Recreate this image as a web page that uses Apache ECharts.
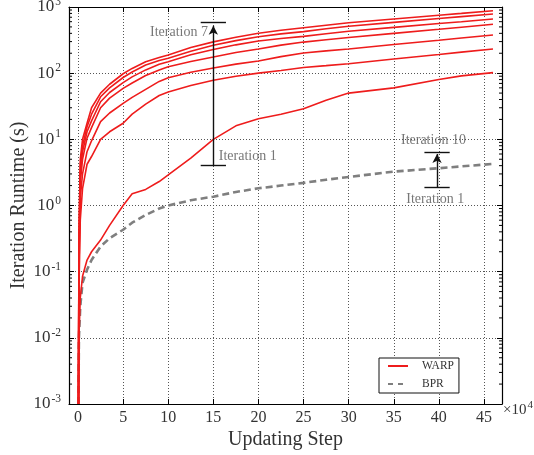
<!DOCTYPE html>
<html><head><meta charset="utf-8">
<script src="https://cdn.jsdelivr.net/npm/echarts@6/dist/echarts.min.js"></script>
<style>html,body{margin:0;padding:0;background:#fff}#c{width:534px;height:455px}</style>
</head><body><div id="c"></div>
<script>
// Updating step (x 10^4)
const steps = [0.05, 0.1, 0.25, 0.5, 1, 1.5, 2.5, 3.5, 5, 6, 7.5, 9, 10, 12.5, 15, 17.5, 20, 22.5, 25, 27.5, 30, 35, 40, 42.5, 46];
// WARP runtime per iteration (s), iteration 7 (top) ... iteration 1 (bottom)
const warpIter7 = [0.001, 0.3, 5, 10, 17.5, 30, 50, 68, 98, 118, 149, 172, 188, 245, 297, 350, 401, 445, 486, 530, 577, 658, 752, 800, 880];
const warpIter6 = [0.001, 0.25, 4, 8, 15.5, 24, 44, 60, 86, 104, 133, 155, 168, 215, 265, 310, 356, 392, 425, 468, 513, 586, 670, 715, 783];
const warpIter5 = [0.001, 0.2, 3, 6.5, 13, 19, 37, 51, 72, 88, 112, 136, 149, 190, 228, 268, 306, 335, 360, 395, 431, 492, 563, 600, 659];
const warpIter4 = [0.001, 0.15, 2.2, 5, 10.4, 15, 30, 42, 59, 71, 92, 112, 125, 150, 175, 205, 232, 265, 295, 320, 346, 399, 460, 495, 548];
const warpIter3 = [0.001, 0.1, 1.3, 3, 6.5, 9.5, 18.5, 25, 35, 43, 57, 75, 85, 103, 120, 137, 153, 178, 202, 217, 232, 271, 315, 340, 378];
const warpIter2 = [0.001, 0.05, 0.6, 1.8, 4.2, 5.5, 10, 13, 17.5, 24, 34, 46, 52, 65, 78, 90, 100, 110, 122, 130, 139, 164, 192, 208, 232];
const warpIter1 = [0.001, 0.01, 0.04, 0.085, 0.15, 0.2, 0.3, 0.5, 1.0, 1.5, 1.75, 2.3, 2.9, 5.2, 10, 16, 20.5, 24, 29, 39, 50, 60, 80, 91, 102];
// BPR runtime (s)
const bprRuntime = [0.001, 0.01, 0.03, 0.068, 0.107, 0.15, 0.24, 0.32, 0.43, 0.55, 0.72, 0.9, 1.0, 1.2, 1.36, 1.6, 1.82, 2.0, 2.2, 2.45, 2.7, 3.25, 3.66, 3.9, 4.25];

const xTicks = [0, 5, 10, 15, 20, 25, 30, 35, 40, 45];
const xRange = [-1, 47];
const yRange = [0.001, 1000];

// annotation brackets: [x, low, high(bar), arrowTip]
const bracketA = [15, 4.0, 588, 520];
const bracketB = [39.8, 1.89, 6.3, 6.0];
const bracketHalf = 1.4;
// annotation texts: [x, y, text, align]
const annotTexts = [
  [14.4, 419, 'Iteration 7', 'left'],
  [15.6, 5.6, 'Iteration 1', 'right'],
  [39.4, 9.5, 'Iteration 10', 'inside'],
  [39.6, 1.26, 'Iteration 1', 'inside']
];

const warpSeries = [warpIter7, warpIter6, warpIter5, warpIter4, warpIter3, warpIter2, warpIter1];

const FONT = 'Liberation Serif';
const RED = '#ee1c1c';
const GRAY = '#7f7f7f';

const minorVals = [];
for (let e = -3; e < 3; e++) for (let m = 2; m <= 9; m++) minorVals.push(m * Math.pow(10, e));

function pairs(ys) { return steps.map((x, i) => [x, ys[i]]); }

const series = [];
warpSeries.forEach((ys) => {
  series.push({
    name: 'WARP', type: 'line', data: pairs(ys), showSymbol: false, symbol: 'none',
    lineStyle: { color: RED, width: 1.6 }, itemStyle: { color: RED },
    silent: true, z: 3
  });
});
series.push({
  name: 'BPR', type: 'line', data: pairs(bprRuntime), showSymbol: false, symbol: 'none',
  lineStyle: { color: GRAY, width: 2.6, type: [7, 4] }, itemStyle: { color: GRAY },
  silent: true, z: 2
});

function bracketLines(b) {
  const [x, lo, hi, tip] = b;
  return [
    [{ coord: [x, lo], symbol: 'none' }, { coord: [x, tip], symbol: 'arrow', symbolSize: [7, 9] }],
    [{ coord: [x - bracketHalf, lo], symbol: 'none' }, { coord: [x + bracketHalf, lo], symbol: 'none' }],
    [{ coord: [x - bracketHalf, hi], symbol: 'none' }, { coord: [x + bracketHalf, hi], symbol: 'none' }]
  ];
}

series.push({
  name: 'annot', type: 'line', data: [], silent: true, z: 5,
  markLine: {
    silent: true, animation: false, symbol: ['none', 'none'],
    lineStyle: { color: '#111', width: 1.4, type: 'solid' },
    label: { show: false },
    data: bracketLines(bracketA).concat(bracketLines(bracketB))
  }
});

series.push({
  name: 'annotText', type: 'scatter', symbolSize: 0, silent: true, z: 6,
  data: annotTexts.map(t => ({
    value: [t[0], t[1]],
    label: { show: true, position: t[3], distance: 0, formatter: t[2],
      fontFamily: FONT, fontSize: 14, color: '#555' }
  }))
});

series.push({
  name: 'minor', type: 'custom', silent: true, z: 4,
  data: minorVals.map(v => [xRange[0], v]),
  renderItem: function (params, api) {
    const v = api.value(1);
    const p = api.coord([xRange[0], v]);
    const q = api.coord([xRange[1], v]);
    return { type: 'group', children: [
      { type: 'line', shape: { x1: p[0], y1: p[1], x2: p[0] + 3, y2: p[1] }, style: { stroke: '#000', lineWidth: 1 } },
      { type: 'line', shape: { x1: q[0] - 3, y1: q[1], x2: q[0], y2: q[1] }, style: { stroke: '#000', lineWidth: 1 } }
    ]};
  }
});

const splitStyle = { show: true, lineStyle: { color: '#555', width: 1, type: [1, 2] } };
const tickLabelStyle = { fontFamily: FONT, fontSize: 16, color: '#333' };

const option = {
  animation: false,
  backgroundColor: '#fff',
  grid: { left: 69, top: 7, right: 32, bottom: 51, containLabel: false, outerBoundsMode: 'none' },
  legend: {
    data: [
      { name: 'WARP', lineStyle: { color: RED, width: 2, type: 'solid' } },
      { name: 'BPR', lineStyle: { color: GRAY, width: 2, type: [5, 5] } }
    ],
    orient: 'vertical', left: 379, top: 358,
    padding: [2, 5, 3, 8], itemGap: 6, itemWidth: 20, itemHeight: 14,
    itemStyle: { opacity: 0 },
    backgroundColor: '#fff', borderColor: '#111', borderWidth: 1,
    textStyle: { fontFamily: FONT, fontSize: 11.5, color: '#333', padding: [0, 0, 0, 9] }
  },
  xAxis: [{
    type: 'value', min: xRange[0], max: xRange[1], position: 'bottom',
    name: 'Updating Step', nameLocation: 'middle', nameGap: 26, nameMoveOverlap: false,
    nameTextStyle: { fontFamily: FONT, fontSize: 20, color: '#333' },
    axisLine: { show: true, onZero: false, lineStyle: { color: '#000', width: 1.2 } },
    axisTick: { show: true, inside: true, length: 5, customValues: xTicks, lineStyle: { color: '#000' } },
    axisLabel: Object.assign({ customValues: xTicks, margin: 6 }, tickLabelStyle),
    splitLine: splitStyle
  }, {
    type: 'value', min: xRange[0], max: xRange[1], position: 'top',
    axisLine: { show: true, onZero: false, lineStyle: { color: '#000', width: 1.2 } },
    axisTick: { show: true, inside: true, length: 5, customValues: xTicks, lineStyle: { color: '#000' } },
    axisLabel: { show: false }, splitLine: { show: false }
  }],
  yAxis: [{
    type: 'log', logBase: 10, min: yRange[0], max: yRange[1], position: 'left',
    name: 'Iteration Runtime (s)', nameLocation: 'middle', nameGap: 40, nameRotate: 90,
    nameMoveOverlap: false,
    nameTextStyle: { fontFamily: FONT, fontSize: 20, color: '#333' },
    axisLine: { show: true, onZero: false, lineStyle: { color: '#000', width: 1.2 } },
    axisTick: { show: true, inside: true, length: 5, lineStyle: { color: '#000' } },
    axisLabel: {
      margin: 8,
      formatter: function (v) { const e = Math.round(Math.log10(v)); return '{b|10}{e|' + e + '}'; },
      rich: {
        b: { fontFamily: FONT, fontSize: 17, color: '#333' },
        e: { fontFamily: FONT, fontSize: 11.5, color: '#333', padding: [0, 0, 10, 1] }
      }
    },
    splitLine: splitStyle
  }, {
    type: 'log', logBase: 10, min: yRange[0], max: yRange[1], position: 'right',
    axisLine: { show: true, onZero: false, lineStyle: { color: '#000', width: 1.2 } },
    axisTick: { show: true, inside: true, length: 5, lineStyle: { color: '#000' } },
    axisLabel: { show: false }, splitLine: { show: false }
  }],
  graphic: [{
    type: 'text', left: 503, top: 400,
    style: {
      text: '{b|×10}{e|4}',
      rich: {
        b: { fontFamily: FONT, fontSize: 15, fill: '#333', color: '#333' },
        e: { fontFamily: FONT, fontSize: 11, fill: '#333', color: '#333', padding: [0, 0, 9, 1] }
      }
    }
  }],
  series: series
};

const chart = echarts.init(document.getElementById('c'), null, { renderer: 'canvas' });
chart.setOption(option);
</script>
</body></html>
